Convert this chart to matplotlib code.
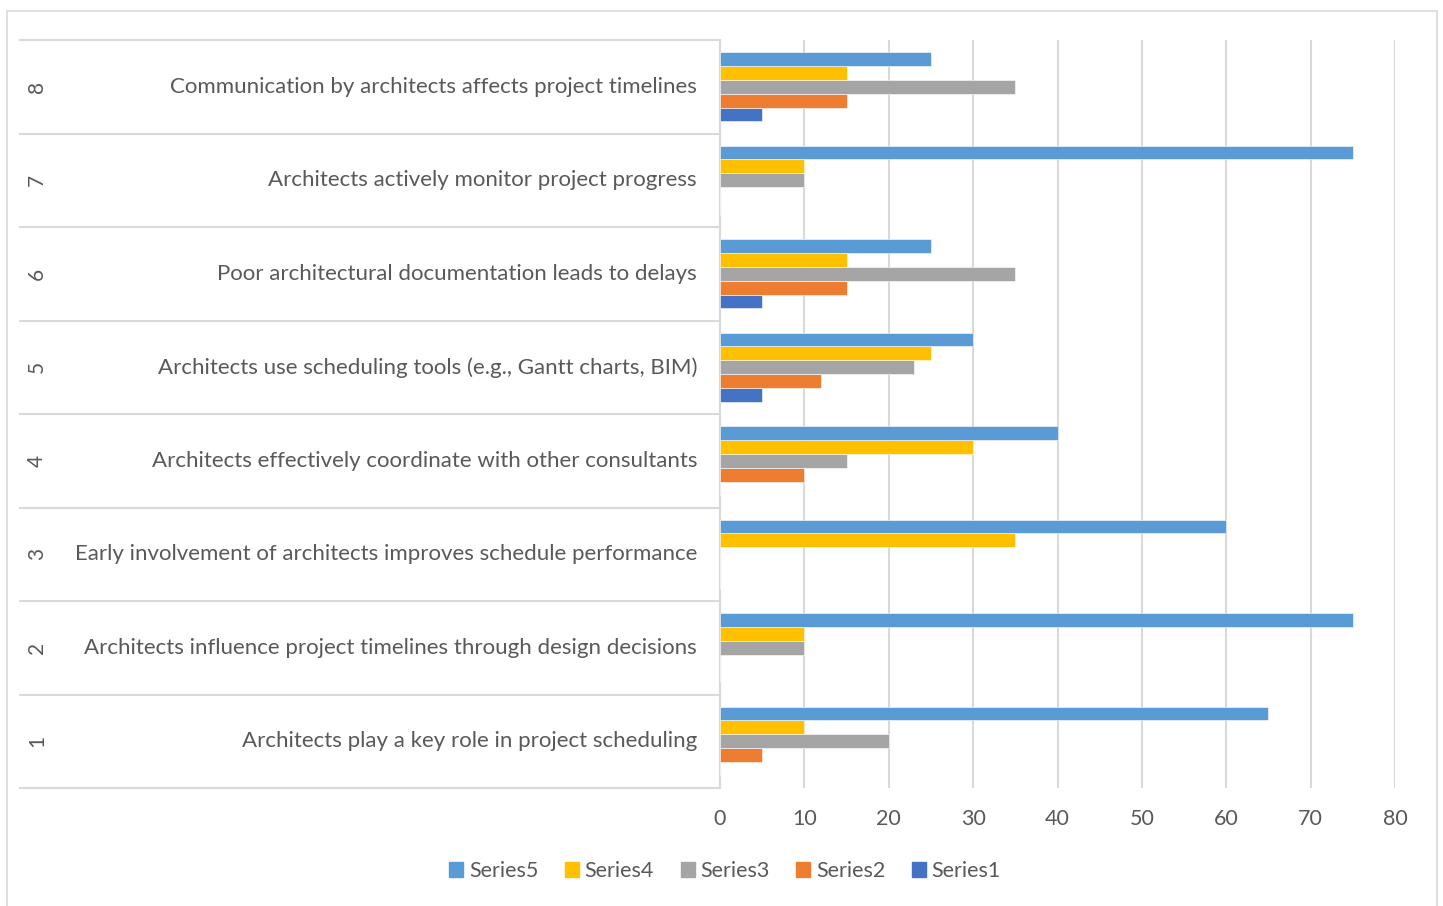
import numpy as np
import matplotlib
matplotlib.use("Agg")
import matplotlib.pyplot as plt
import matplotlib.transforms as mtransforms
from matplotlib.patches import Rectangle, Patch

plt.rcParams['font.family'] = ['Lato', 'DejaVu Sans']

# survey statements, numbered 1..8 from the bottom
numbers = ["1", "2", "3", "4", "5", "6", "7", "8"]
statements = [
    "Architects play a key role in project scheduling",
    "Architects influence project timelines through design decisions",
    "Early involvement of architects improves schedule performance",
    "Architects effectively coordinate with other consultants",
    "Architects use scheduling tools (e.g., Gantt charts, BIM)",
    "Poor architectural documentation leads to delays",
    "Architects actively monitor project progress",
    "Communication by architects affects project timelines",
]

series1 = [0, 0, 0, 0, 5, 5, 0, 5]
series2 = [5, 0, 0, 10, 12, 15, 0, 15]
series3 = [20, 10, 0, 15, 23, 35, 10, 35]
series4 = [10, 10, 35, 30, 25, 15, 10, 15]
series5 = [65, 75, 60, 40, 30, 25, 75, 25]

series = [series1, series2, series3, series4, series5]
names = ["Series1", "Series2", "Series3", "Series4", "Series5"]
colors = ["#4472C4", "#ED7D31", "#A5A5A5", "#FFC000", "#5B9BD5"]

W, H = 1443, 906
fig = plt.figure(figsize=(W / 100, H / 100), dpi=100)
ax = fig.add_axes([720 / W, 1 - 788 / H, 675 / W, 748 / H])

text_col = "#595959"
grid_col = "#D9D9D9"

# chart frame
fig.patches.append(Rectangle((7 / W, -0.01), 1430 / W, 1 - 11 / H + 0.01,
                             transform=fig.transFigure, fill=False,
                             edgecolor=grid_col, linewidth=1.2))

pos = np.arange(1, 9)
h = 0.148
for i, (vals, name, c) in enumerate(zip(series, names, colors)):
    ax.barh(pos + (i - 2) * h, vals, height=h, color=c, label=name,
            edgecolor="white", linewidth=0.4, zorder=3)

ax.set_xlim(0, 80)
ax.set_ylim(0.5, 8.5)
ax.set_xticks(range(0, 81, 10))
ax.tick_params(axis="x", length=0, pad=15, labelsize=15.5, labelcolor=text_col)
ax.set_yticks([])
ax.grid(axis="x", color=grid_col, linewidth=1.5, zorder=0)
for s in ["top", "right", "bottom"]:
    ax.spines[s].set_visible(False)
ax.spines["left"].set_color(grid_col)
ax.spines["left"].set_linewidth(1.5)

# two-level category labels on the left
tr = mtransforms.blended_transform_factory(fig.transFigure, ax.transData)
for k in range(9):
    fig.add_artist(plt.Line2D([20 / W, 720 / W], [k + 0.5, k + 0.5],
                              transform=tr, color=grid_col, linewidth=1.5))
for p, num, txt in zip(pos, numbers, statements):
    fig.text(37 / W, p, num, transform=tr, rotation=90, ha="center",
             va="center", fontsize=15, color=text_col)
    fig.text(697 / W, p, txt, transform=tr, ha="right", va="center",
             fontsize=16, color=text_col)

handles = [Patch(color=c) for c in colors][::-1]
fig.legend(handles, names[::-1], loc="center", bbox_to_anchor=(725 / W, 1 - 871 / H),
           ncol=5, frameon=False, fontsize=15.5, labelcolor=text_col,
           handlelength=0.65, handleheight=0.65, handletextpad=0.25,
           columnspacing=1.25)

fig.savefig("out.png", dpi=100)
